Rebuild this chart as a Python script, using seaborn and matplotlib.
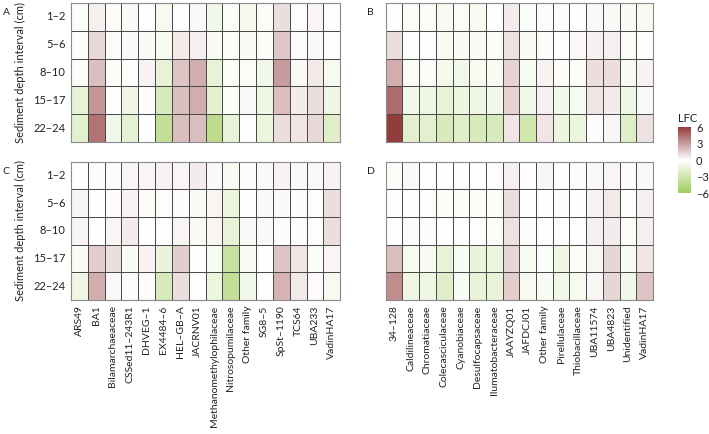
import numpy as np
import pandas as pd
import matplotlib
matplotlib.use("Agg")
import matplotlib.pyplot as plt
import seaborn as sns
from matplotlib.colors import LinearSegmentedColormap, Normalize
from matplotlib.cm import ScalarMappable

sns.set_style("white")
plt.rcParams['font.family'] = ['Lato', 'DejaVu Sans']
plt.rcParams['axes.unicode_minus'] = True

# depth intervals (rows)
depths = ['1–2', '5–6', '8–10', '15–17', '22–24']

# families for panels A and C
families_ac = ['ARS49', 'BA1', 'Bilamarchaeaceae', 'CSSed11–243R1', 'DHVEG–1',
               'EX4484–6', 'HEL–GB–A', 'JACRNV01', 'Methanomethylophilaceae',
               'Nitrosopumilaceae', 'Other family', 'SG8–5', 'SpSt–1190',
               'TCS64', 'UBA233', 'VadinHA17']

# families for panels B and D
families_bd = ['34–128', 'Caldilineaceae', 'Chromatiaceae', 'Colecasciculaceae',
               'Cyanobiaceae', 'Desulfocapsaceae', 'Ilumatobacteraceae',
               'JAAYZQ01', 'JAFDCJ01', 'Other family', 'Pirellulaceae',
               'Thiobacillaceae', 'UBA11574', 'UBA4823', 'Unidentified',
               'VadinHA17']

# LFC values, one list per family (rows = depths)
lfc_a = [
    [-0.3, -0.2, -0.3, -1.5, -1.8],
    [0.5, 1.2, 2.0, 3.2, 4.3],
    [-0.2, 0.1, -0.2, 0.0, -0.8],
    [0.2, 0.2, -0.1, -1.0, -1.6],
    [0.0, 0.2, 0.4, 0.1, 0.0],
    [-0.6, -0.6, -1.5, -2.5, -3.8],
    [0.0, 0.7, 1.8, 2.0, 2.0],
    [0.2, 0.5, 2.5, 2.5, 2.0],
    [-0.8, -0.5, -1.5, -1.7, -4.2],
    [-0.3, -0.3, -0.3, -0.2, -1.5],
    [-0.7, -0.4, -0.3, 0.2, 0.0],
    [-0.2, -0.2, -0.8, -1.0, -1.2],
    [1.0, 1.7, 3.0, 2.0, 1.0],
    [-0.1, 0.1, 0.2, 0.6, 0.8],
    [0.3, 0.2, 0.7, 1.0, 1.2],
    [0.0, 0.0, -0.6, -1.0, -2.0],
]
lfc_b = [
    [0.0, 1.0, 2.5, 4.5, 6.0],
    [-0.2, 0.0, -0.3, -0.8, -1.8],
    [-0.2, 0.0, -0.3, -1.0, -1.8],
    [-0.5, -0.6, -0.7, -1.5, -2.5],
    [-0.3, -0.4, -0.8, -1.2, -2.0],
    [-0.5, -0.4, -0.6, -1.0, -2.5],
    [0.0, -0.3, -0.5, -0.8, -2.5],
    [0.6, 0.9, 1.4, 1.4, 0.8],
    [-0.3, -0.4, -0.6, -0.8, -3.0],
    [0.1, 0.1, 0.4, 0.5, 0.8],
    [-0.2, 0.0, -0.2, -0.8, -1.2],
    [0.0, 0.2, -0.2, -0.6, -1.2],
    [0.2, 0.5, 1.0, 0.8, 0.1],
    [0.2, 0.5, 1.0, 0.6, 0.3],
    [-0.4, -0.3, -0.5, -1.0, -2.0],
    [-0.5, 0.0, 0.4, 0.2, 0.9],
]
lfc_c = [
    [0.0, 0.3, 0.3, -0.4, -1.0],
    [-0.3, 0.0, 0.0, 1.5, 2.5],
    [0.1, 0.1, 0.3, 1.0, 0.2],
    [0.3, 0.4, 0.6, -0.4, 0.1],
    [0.3, -0.2, 0.0, 0.4, 0.1],
    [0.4, 0.0, 0.0, -1.3, -2.5],
    [0.3, 0.1, 0.3, 1.5, 1.0],
    [0.6, -0.4, -0.4, 0.0, 0.0],
    [0.2, 0.3, 0.3, -0.5, -1.2],
    [-0.5, -1.2, -1.5, -3.5, -3.8],
    [0.1, 0.0, 0.2, -0.4, -0.8],
    [0.2, 0.2, 0.2, 0.0, 0.0],
    [0.4, 0.2, 0.1, 1.8, 2.3],
    [0.2, 0.1, 0.1, 0.8, 0.7],
    [0.2, 0.0, 0.0, -0.3, 0.1],
    [0.4, 1.0, 1.0, 0.3, -0.6],
]
lfc_d = [
    [-0.2, 0.0, 0.0, 2.0, 3.5],
    [0.2, 0.0, 0.1, -0.6, -1.0],
    [0.0, 0.0, 0.1, -0.5, -1.0],
    [0.0, -0.2, 0.0, -1.5, -2.0],
    [0.0, -0.2, 0.0, -0.5, -0.4],
    [0.0, -0.2, -0.1, -1.3, -1.5],
    [-0.1, -0.2, -0.2, -1.2, -1.5],
    [0.5, 1.0, 0.9, 1.3, 1.5],
    [0.0, 0.0, 0.1, -0.6, -0.6],
    [0.3, 0.0, 0.0, -0.3, -0.4],
    [0.0, 0.1, -0.1, -1.0, -0.9],
    [0.1, 0.0, 0.0, -0.2, -0.6],
    [0.2, 0.4, 0.5, 0.3, 0.3],
    [0.3, 0.7, 0.6, 1.3, 1.3],
    [0.1, 0.0, -0.2, -0.4, -0.8],
    [0.2, 0.5, 0.5, 0.8, 1.8],
]

cbar_ticks = [6, 3, 0, -3, -6]

cmap = LinearSegmentedColormap.from_list('lfc', ['#9fcc5c', '#ffffff', '#933c3c'])
norm = Normalize(vmin=-6, vmax=6)

fig = plt.figure(figsize=(7.09, 4.34), dpi=100)

panels = [
    ('A', lfc_a, families_ac, [0.100, 0.673, 0.380, 0.320], True, False),
    ('B', lfc_b, families_bd, [0.544, 0.673, 0.377, 0.320], False, False),
    ('C', lfc_c, families_ac, [0.100, 0.309, 0.380, 0.318], True, True),
    ('D', lfc_d, families_bd, [0.544, 0.309, 0.377, 0.318], False, True),
]

for letter, vals, fams, pos, show_y, show_x in panels:
    ax = fig.add_axes(pos)
    df = pd.DataFrame(np.array(vals).T, index=depths, columns=fams)
    sns.heatmap(df, cmap=cmap, vmin=-6, vmax=6, cbar=False,
                linewidths=0.6, linecolor='#4a4a4a', ax=ax)
    for s in ax.spines.values():
        s.set_visible(True)
        s.set_color('#8a8a8a')
        s.set_linewidth(0.8)
    ax.tick_params(length=0, pad=4)
    if show_y:
        ax.set_yticklabels(depths, rotation=0, fontsize=8, color='#222222')
        ax.set_ylabel('Sediment depth interval (cm)', fontsize=8, color='#222222', labelpad=5)
    else:
        ax.set_yticklabels([])
        ax.set_ylabel('')
    if show_x:
        ax.set_xticklabels(fams, rotation=90, fontsize=7.5, color='#222222')
    else:
        ax.set_xticklabels([])
    ax.set_xlabel('')
    lx = 0.004 if show_y else pos[0] - 0.027
    fig.text(lx, pos[1] + pos[3] - 0.028, letter, fontsize=7.5, color='#222222')

# colour bar
cax = fig.add_axes([0.956, 0.555, 0.018, 0.152])
sm = ScalarMappable(norm=norm, cmap=cmap)
cb = fig.colorbar(sm, cax=cax, ticks=cbar_ticks)
cb.outline.set_visible(False)
cb.ax.tick_params(length=2, color='white', labelsize=8, labelcolor='#222222', pad=2)
cb.ax.set_yticklabels(['6', '3', '0', '−3', '−6'])
cax.set_title('LFC', fontsize=8, color='#222222', loc='left', pad=4)

fig.savefig('out.png', dpi=100)
